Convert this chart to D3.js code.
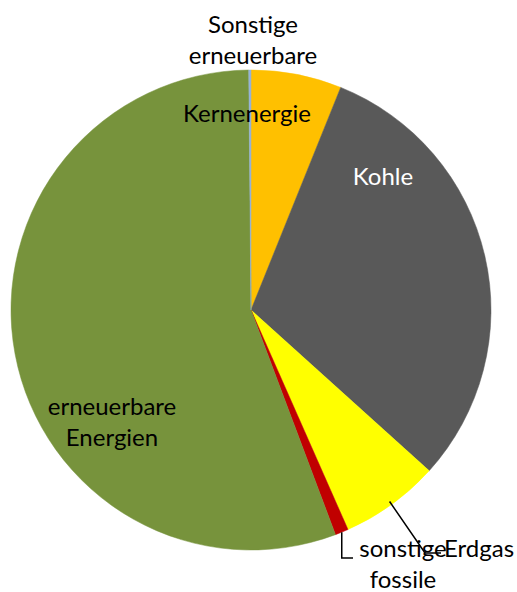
<!DOCTYPE html>
<html>
<head>
<meta charset="utf-8">
<script src="https://cdn.jsdelivr.net/npm/d3@7"></script>
<style>
  body { margin: 0; background: #fff; }
  text { font-family: Lato, "Open Sans", sans-serif; }
</style>
</head>
<body>
<div id="chart"></div>
<script>
// Data (share of generation, percent)
const categories = ["Kernenergie", "Kohle", "Erdgas", "sonstige fossile", "erneuerbare Energien", "Sonstige erneuerbare"];
const values = [6.1, 30.6, 6.7, 0.9, 55.6, 0.15];
const colors = ["#FFC000", "#595959", "#FFFF00", "#C00000", "#77933C", "#95B3D7"];

const width = 517, height = 592;
const cx = 251, cy = 310, radius = 240;

const svg = d3.select("#chart").append("svg")
  .attr("width", width)
  .attr("height", height);

const g = svg.append("g")
  .attr("transform", "translate(" + cx + "," + cy + ")");

const pie = d3.pie().sort(null).value(d => d.value);
const arc = d3.arc().innerRadius(0).outerRadius(radius);

const data = categories.map((c, i) => ({ name: c, value: values[i], color: colors[i] }));
const arcs = pie(data);

g.selectAll("path.slice")
  .data(arcs)
  .enter()
  .append("path")
  .attr("class", "slice")
  .attr("d", arc)
  .style("fill", d => d.data.color)
  .style("stroke", d => d.data.color)
  .style("stroke-width", 0.5);

// label layout (offsets from pie centre), line text and colour
const labels = {
  "Kernenergie": { x: -4, y: -188, lines: ["Kernenergie"], fill: "#000", anchor: "middle" },
  "Kohle": { x: 132, y: -125, lines: ["Kohle"], fill: "#fff", anchor: "middle" },
  "Erdgas": { x: 193, y: 247, lines: ["Erdgas"], fill: "#000", anchor: "start" },
  "sonstige fossile": { x: 152, y: 247, lines: ["sonstige", "fossile"], fill: "#000", anchor: "middle" },
  "erneuerbare Energien": { x: -139, y: 105, lines: ["erneuerbare", "Energien"], fill: "#000", anchor: "middle" },
  "Sonstige erneuerbare": { x: 2, y: -277, lines: ["Sonstige", "erneuerbare"], fill: "#000", anchor: "middle" }
};

// leader lines for the small outer labels
const leaders = {
  "Erdgas": [[0.985, 0], [174, 243], [190, 243]],
  "sonstige fossile": [[1.0, 0], [90, 248], [102, 248]]
};

arcs.forEach(a => {
  const L = leaders[a.data.name];
  if (!L) return;
  const mid = (a.startAngle + a.endAngle) / 2;
  const r0 = radius * L[0][0];
  const pts = [[r0 * Math.sin(mid), -r0 * Math.cos(mid)], L[1], L[2]];
  if (a.data.name === "sonstige fossile") pts[1] = [pts[0][0], L[1][1]];
  g.append("path")
    .attr("d", d3.line()(pts))
    .style("fill", "none")
    .style("stroke", "#000")
    .style("stroke-width", 1.5);
});

arcs.forEach(a => {
  const lb = labels[a.data.name];
  const t = g.append("text")
    .attr("x", lb.x)
    .attr("y", lb.y)
    .attr("text-anchor", lb.anchor)
    .style("font-size", "24px")
    .style("fill", lb.fill);
  lb.lines.forEach((line, i) => {
    t.append("tspan")
      .attr("x", lb.x)
      .attr("dy", i === 0 ? 0 : 31)
      .text(line);
  });
});
</script>
</body>
</html>
